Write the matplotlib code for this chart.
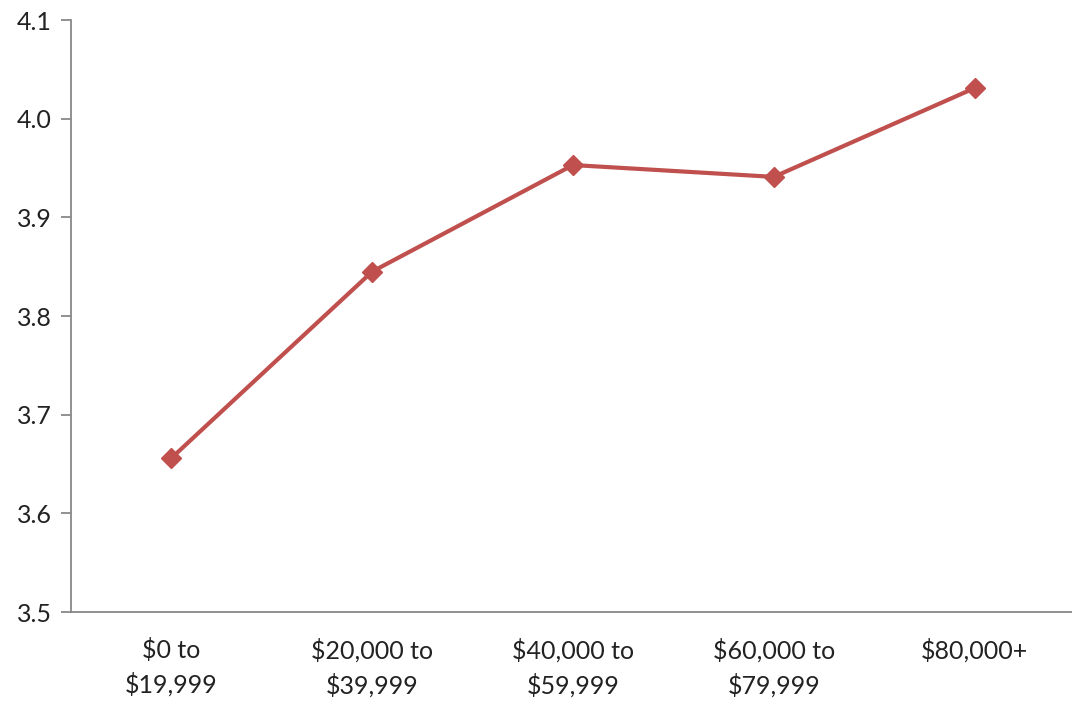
import matplotlib
matplotlib.use("Agg")
import matplotlib.pyplot as plt

categories = ["$0 to\n$19,999", "$20,000 to\n$39,999", "$40,000 to\n$59,999",
              "$60,000 to\n$79,999", "$80,000+"]
values = [3.656, 3.845, 3.953, 3.941, 4.031]
yticks = [3.5, 3.6, 3.7, 3.8, 3.9, 4.0, 4.1]

plt.rcParams['font.family'] = ['Lato', 'DejaVu Sans']

fig = plt.figure(figsize=(10.72, 7.05), dpi=100)
ax = fig.add_axes([71 / 1072, 93 / 705, 1004 / 1072, 592 / 705])

x = list(range(len(categories)))
ax.plot(x, values, color='#C0504D', linewidth=3, marker='D', markersize=10,
        markeredgecolor='#C0504D', markerfacecolor='#C0504D')

ax.set_xlim(-0.5, len(categories) - 0.5)
ax.set_ylim(3.5, 4.1)
ax.set_yticks(yticks)
ax.set_yticklabels(["%.1f" % t for t in yticks])
ax.set_xticks(x)
ax.set_xticklabels([c.replace("$", r"\$") for c in categories], linespacing=1.5)

for s in ['top', 'right']:
    ax.spines[s].set_visible(False)
for s in ['left', 'bottom']:
    ax.spines[s].set_color('#888888')
    ax.spines[s].set_linewidth(1.3)

ax.tick_params(axis='y', direction='out', length=7, width=1.3, color='#888888',
               labelsize=18, labelcolor='#222222', pad=7)
ax.tick_params(axis='x', length=0, labelsize=18, labelcolor='#222222', pad=19)

fig.savefig("out.png", dpi=100)
